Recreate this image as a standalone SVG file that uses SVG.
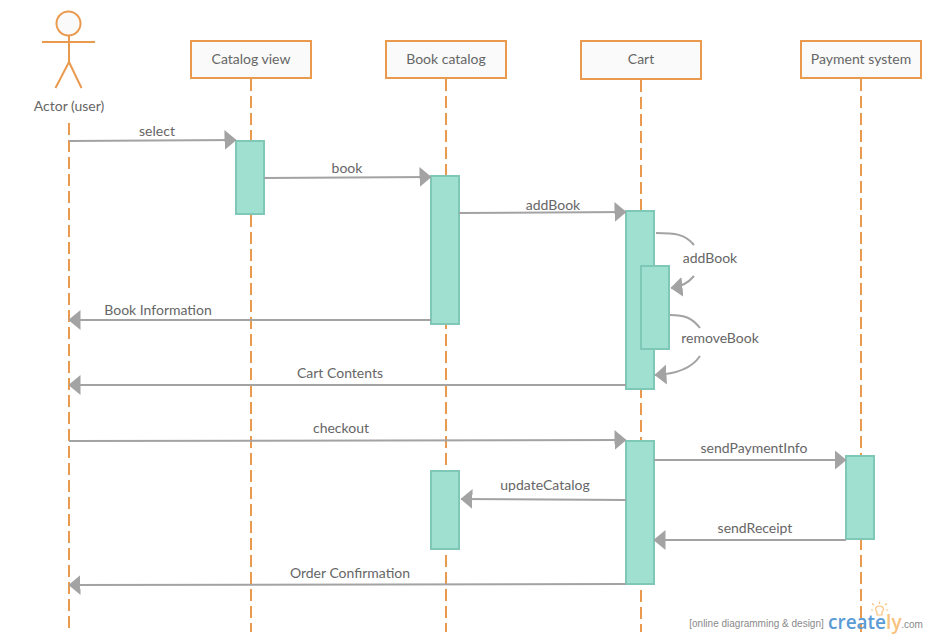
<svg xmlns="http://www.w3.org/2000/svg" width="927" height="639" viewBox="0 0 927 639">
<style>
text{font-family:Lato,"Open Sans","Liberation Sans",sans-serif;font-size:14px;fill:#666;text-anchor:middle}
.box{fill:#fafafa;stroke:#ea9a4f;stroke-width:2}
.life{fill:none;stroke:#ea9a4f;stroke-width:2;stroke-dasharray:12 5}
.act{fill:#a0e0d1;stroke:#7fc7b6;stroke-width:2}
.msg{fill:none;stroke:#a3a3a3;stroke-width:2}
.head{fill:#a3a3a3}
.lim{fill:none;stroke:#ea9a4f;stroke-width:2}
.bulb{fill:none;stroke:#f7c27e;stroke-width:1.200}
</style>
<defs>
<marker id="arrow" viewBox="0 0 12 20" refX="11.5" refY="10" markerWidth="12" markerHeight="20" markerUnits="userSpaceOnUse" orient="auto"><path class="head" d="M0 0L12 10L0 20Z"/></marker>
</defs>
<rect width="927" height="639" fill="#fff"/>
<g id="lifelines">
<path class="life" d="M69 123V628"/>
<path class="life" d="M251 79V632"/>
<path class="life" d="M446 79V632"/>
<path class="life" d="M641 80V632"/>
<path class="life" d="M861 79V632"/>
</g>
<g id="actor-user">
<circle cx="68.500" cy="23.500" r="12" fill="#fafafa" stroke="#ea9a4f" stroke-width="2"/>
<path class="lim" d="M69 36V62M42 42H95M69 62L55.500 88M69 62L81.500 88"/>
<text x="69" y="111">Actor (user)</text>
</g>
<g id="catalog-view"><rect class="box" x="191" y="41" width="120" height="37"/><text x="251" y="64">Catalog view</text></g>
<g id="book-catalog"><rect class="box" x="386" y="41" width="120" height="37"/><text x="446" y="64">Book catalog</text></g>
<g id="cart"><rect class="box" x="581" y="41" width="120" height="38"/><text x="641" y="64">Cart</text></g>
<g id="payment-system"><rect class="box" x="801" y="41" width="120" height="37"/><text x="861" y="64">Payment system</text></g>
<g id="activations">
<rect class="act" x="236" y="141" width="28" height="73"/>
<rect class="act" x="431" y="176" width="28" height="148"/>
<rect class="act" x="626" y="211" width="28" height="178"/>
<rect class="act" x="641" y="266" width="28" height="83"/>
<rect class="act" x="626" y="441" width="28" height="143"/>
<rect class="act" x="431" y="471" width="28" height="78"/>
<rect class="act" x="846" y="456" width="28" height="83"/>
</g>
<g id="connectors">
<path class="msg" marker-end="url(#arrow)" d="M69 141L236 140"/>
<path class="msg" marker-end="url(#arrow)" d="M264 178L431 177"/>
<path class="msg" marker-end="url(#arrow)" d="M459 213L626 212"/>
<path class="msg" marker-end="url(#arrow)" d="M431 320H69"/>
<path class="msg" marker-end="url(#arrow)" d="M626 385H69"/>
<path class="msg" marker-end="url(#arrow)" d="M69 441L626 440"/>
<path class="msg" marker-end="url(#arrow)" d="M654 460H846"/>
<path class="msg" marker-end="url(#arrow)" d="M626 500L461 499"/>
<path class="msg" marker-end="url(#arrow)" d="M846 540H654"/>
<path class="msg" marker-end="url(#arrow)" d="M626 584L69 585"/>
<path class="msg" d="M656 233C675 233 685 234 694 245"/>
<path class="msg" marker-end="url(#arrow)" d="M694 276C689 282 681 287 671 288"/>
<path class="msg" d="M670 315C685 315 692 318 700 328"/>
<path class="msg" marker-end="url(#arrow)" d="M700 356C692 368 678 374 655 375"/>
</g>
<g id="labels">
<text x="157" y="136">select</text>
<text x="347" y="173">book</text>
<text x="553" y="210">addBook</text>
<text x="710" y="263">addBook</text>
<text x="720" y="343">removeBook</text>
<text x="158" y="315">Book Information</text>
<text x="340" y="378">Cart Contents</text>
<text x="341" y="433">checkout</text>
<text x="754" y="453">sendPaymentInfo</text>
<text x="545" y="490">updateCatalog</text>
<text x="755" y="533">sendReceipt</text>
<text x="350" y="578">Order Confirmation</text>
</g>
<g id="watermark">
<text x="756.500" y="627" style="font-family:'Liberation Sans',sans-serif;font-size:10px;fill:#8a8a8a">[online diagramming &amp; design]</text>
<text x="828" y="629" style="font-family:'Open Sans',sans-serif;font-size:19px;font-weight:600;fill:#5b9bd5;text-anchor:start">create<tspan fill="#f7c27e">ly</tspan></text>
<text x="912" y="628" style="font-family:'Liberation Sans',sans-serif;font-size:10px;fill:#8a8a8a">.com</text>
<path class="bulb" d="M877 612C874 609 876 606 879.500 606C883 606 885 609 882 612V615H877ZM879.500 604V601.500M874 605L872 603.500M885 605L887 603.500M873 610H871M886 610H888"/>
</g>
</svg>
